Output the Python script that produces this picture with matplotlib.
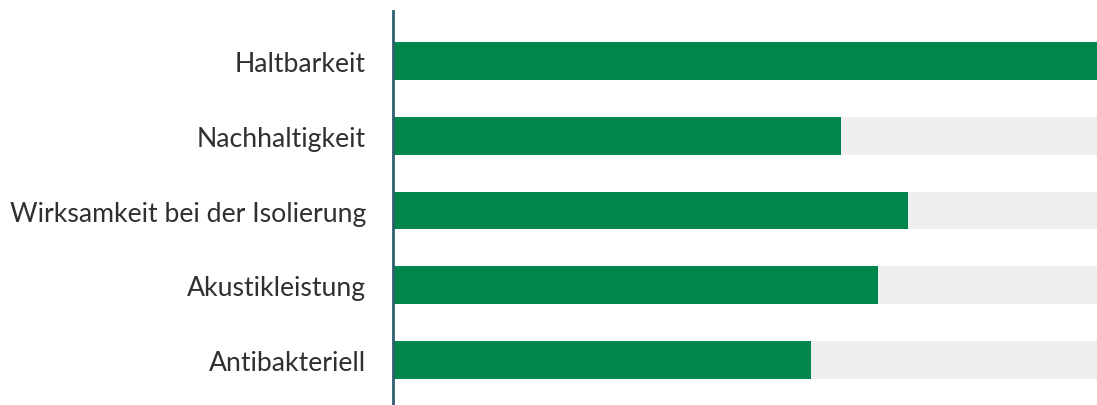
import matplotlib.pyplot as plt

# chart data
categories = ["Haltbarkeit", "Nachhaltigkeit", "Wirksamkeit bei der Isolierung",
              "Akustikleistung", "Antibakteriell"]
values = [100, 63.6, 73.2, 68.9, 59.4]
max_value = 100

green = "#00864A"
track = "#EFEFEF"
axis_col = "#2E5E6C"

plt.rcParams['font.family'] = ['Lato', 'DejaVu Sans']

fig = plt.figure(figsize=(10.97, 4.06), dpi=100)
ax = fig.add_axes([393 / 1097, 0.0, 1 - 393 / 1097, 1 - 12 / 406])

ypos = list(range(len(categories)))
# grey track behind each bar
ax.barh(ypos, [max_value] * len(categories), height=0.507, color=track, zorder=1)
ax.barh(ypos, values, height=0.507, color=green, zorder=2)

ax.set_xlim(0, max_value)
ax.set_ylim(4.6, -0.667)
ax.set_yticks(ypos)
ax.set_yticklabels(categories, fontsize=19.2, color="#303030")
ax.tick_params(axis='y', length=0, pad=19.5)
ax.set_xticks([])

for s in ["top", "right", "bottom"]:
    ax.spines[s].set_visible(False)
ax.spines["left"].set_color(axis_col)
ax.spines["left"].set_linewidth(2)

fig.savefig("out.png", dpi=100)
